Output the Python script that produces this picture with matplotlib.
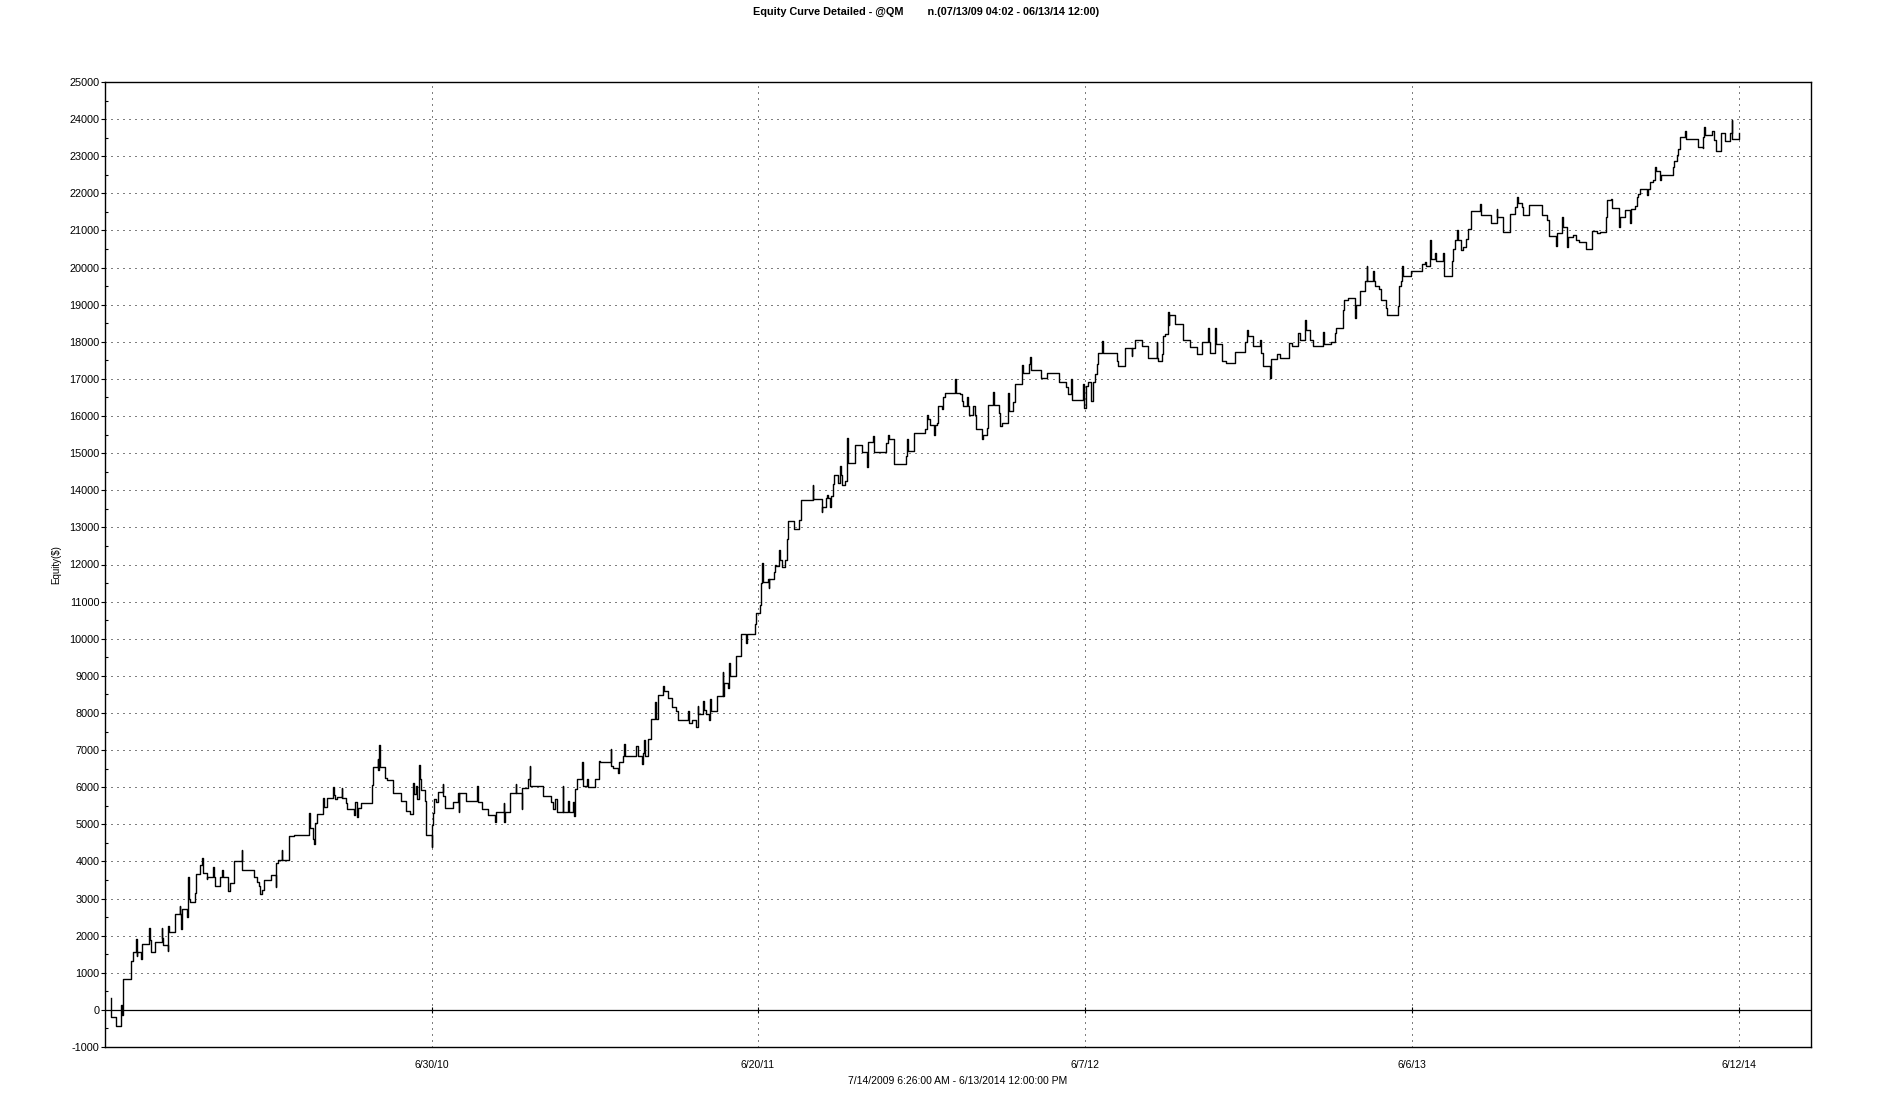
import matplotlib
matplotlib.use('Agg')
import matplotlib.pyplot as plt
from matplotlib.ticker import MultipleLocator

plt.rcParams['font.family'] = ['Liberation Sans', 'DejaVu Sans']
plt.rcParams['axes.unicode_minus'] = False  # plain hyphen for -1000

# equity curve: bar number -> equity ($), drawn as steps
BARS = [
    5.7, 6.0, 10.7, 15.7, 16.3, 17.0, 17.7, 18.3, 25.7, 28.3, 31.0, 31.7, 32.3, 36.3, 37.0,
    44.3, 45.0, 45.7, 50.0, 57.0, 57.3, 58.3, 62.7, 63.3, 64.3, 70.3, 75.0, 75.3, 76.3, 77.0,
    82.3, 83.3, 84.0, 85.0, 90.3, 91.0, 95.0, 97.3, 97.7, 98.3, 101.7, 102.3, 108.3, 109.0, 110.0,
    115.0, 117.3, 118.0, 123.3, 125.0, 129.3, 136.7, 137.0, 149.3, 151.7, 154.3, 155.0, 157.0, 159.0, 165.7,
    170.7, 171.0, 173.3, 176.7, 177.0, 184.3, 189.3, 204.3, 205.0, 208.3, 209.3, 210.3, 211.7, 217.7, 219.0,
    221.7, 228.3, 229.3, 230.3, 232.3, 236.7, 237.3, 241.0, 241.7, 249.0, 250.3, 251.7, 253.3, 256.0, 266.7,
    268.3, 272.7, 273.3, 274.3, 275.0, 280.0, 282.3, 288.3, 296.0, 301.0, 305.0, 308.3, 309.0, 311.0, 311.7,
    314.3, 315.0, 315.7, 320.0, 321.3, 326.7, 327.3, 328.3, 329.3, 331.0, 333.3, 337.7, 338.3, 340.0, 348.3,
    353.3, 353.7, 354.0, 361.0, 372.0, 372.7, 377.3, 383.3, 390.0, 391.0, 399.0, 399.3, 400.0, 405.0, 410.7,
    411.0, 416.7, 417.3, 422.7, 425.0, 425.3, 437.7, 445.7, 448.3, 450.0, 451.7, 457.7, 458.3, 463.3, 464.0,
    468.3, 469.0, 469.7, 471.7, 477.3, 477.7, 481.7, 483.3, 490.3, 494.3, 494.7, 505.7, 506.3, 508.3, 513.3,
    514.0, 518.3, 519.3, 520.0, 531.0, 532.7, 537.3, 538.3, 539.3, 540.0, 543.3, 545.7, 550.3, 551.0, 553.0,
    557.7, 559.3, 563.3, 566.7, 571.0, 573.3, 583.3, 584.0, 586.7, 591.0, 592.7, 593.3, 598.3, 599.0, 601.0,
    603.7, 605.0, 605.7, 611.7, 617.7, 618.3, 619.0, 622.7, 624.3, 625.0, 631.0, 636.3, 641.0, 642.3, 650.0,
    650.7, 655.0, 656.0, 656.7, 657.3, 657.7, 663.3, 663.7, 664.0, 669.3, 670.0, 671.0, 674.3, 674.7, 676.7,
    680.0, 682.3, 683.3, 689.3, 694.0, 695.7, 707.7, 708.3, 716.7, 717.0, 717.3, 720.7, 722.3, 723.3, 725.0,
    726.0, 727.7, 729.0, 733.3, 735.0, 735.7, 736.7, 740.0, 741.7, 742.3, 743.3, 750.0, 756.7, 762.3, 763.3,
    768.3, 769.0, 781.0, 782.7, 783.7, 789.0, 789.3, 801.0, 801.7, 802.7, 808.7, 820.0, 821.7, 823.3, 825.0,
    829.0, 830.0, 831.7, 833.3, 836.7, 838.3, 840.0, 850.0, 851.0, 855.0, 856.7, 858.3, 862.3, 863.0, 864.0,
    868.3, 870.0, 871.0, 876.7, 877.7, 882.3, 883.3, 888.3, 889.0, 894.3, 895.0, 896.7, 902.7, 904.3, 908.3,
    910.0, 917.0, 918.3, 923.7, 925.0, 925.7, 936.0, 942.3, 953.7, 961.0, 963.3, 965.7, 966.7, 978.3, 979.0,
    981.0, 983.3, 985.7, 987.7, 990.0, 991.7, 993.3, 996.7, 997.7, 1012.3, 1013.3, 1019.7, 1026.7, 1027.3, 1030.0,
    1036.7, 1043.3, 1051.7, 1052.3, 1053.3, 1056.7, 1057.7, 1060.0, 1063.3, 1064.0, 1064.3, 1070.0, 1078.3, 1085.0, 1091.7,
    1097.3, 1103.3, 1104.3, 1105.0, 1110.0, 1110.7, 1116.7, 1120.7, 1130.0, 1140.0, 1141.7, 1143.3, 1147.7, 1155.0, 1155.7,
    1157.7, 1165.0, 1165.7, 1171.7, 1175.0, 1184.3, 1186.7, 1193.3, 1195.0, 1200.0, 1201.0, 1205.0, 1208.3, 1218.3, 1219.0,
    1225.7, 1230.0, 1231.0, 1238.3, 1239.0, 1243.3, 1250.0, 1250.7, 1255.0, 1260.0, 1261.7, 1262.3, 1268.3, 1269.0, 1270.0,
    1274.3, 1276.0, 1281.0, 1281.7, 1292.7, 1294.0, 1295.7, 1296.7, 1297.7, 1306.0, 1316.7, 1320.0, 1321.0, 1325.0, 1325.7,
    1330.0, 1330.7, 1337.7, 1339.0, 1346.7, 1347.7, 1350.0, 1352.3, 1353.0, 1355.7, 1358.3, 1361.0, 1363.3, 1365.7, 1375.0,
    1376.0, 1385.7, 1391.7, 1392.3, 1398.3, 1405.0, 1410.0, 1411.7, 1412.7, 1416.7, 1417.7, 1424.3, 1436.7, 1442.3, 1443.7,
    1451.0, 1452.3, 1456.7, 1457.7, 1461.7, 1463.3, 1467.7, 1471.0, 1474.3, 1480.7, 1487.0, 1491.7, 1495.0, 1500.7, 1501.7,
    1505.7, 1506.7, 1514.3, 1515.0, 1520.0, 1525.0, 1526.0, 1530.0, 1531.7, 1533.3, 1535.0, 1541.7, 1543.3, 1545.0, 1548.3,
    1550.0, 1551.0, 1555.0, 1555.7, 1567.7, 1569.0, 1571.7, 1573.3, 1575.0, 1580.0, 1581.0, 1592.7, 1597.7, 1598.3, 1599.3,
    1600.0, 1606.7, 1609.0, 1611.0, 1616.0, 1620.0, 1625.0, 1626.7, 1627.3, 1634.0,
]
EQUITY = [
    320, -180, -430, -250, 120, -130, 350, 840, 1320, 1570, 1900, 1450, 1570, 1360, 1770,
    2200, 1880, 1570, 1830, 2200, 1950, 1750, 1590, 2250, 2090, 2570, 2800, 2570, 2170, 2730,
    2510, 3580, 3000, 2920, 3160, 3660, 3900, 4100, 3900, 3700, 3520, 3570, 3840, 3570, 3340,
    3570, 3760, 3570, 3190, 3430, 4000, 4320, 3760, 3570, 3450, 3350, 3130, 3230, 3500, 3630,
    3320, 3970, 4040, 4320, 4040, 4680, 4700, 5300, 4900, 4600, 4470, 5040, 5270, 5720, 5460,
    5720, 6000, 5800, 5680, 5740, 5970, 5720, 5580, 5410, 5250, 5590, 5190, 5450, 5570, 6060,
    6540, 6770, 6460, 7140, 6540, 6250, 6190, 5840, 5620, 5360, 5280, 6110, 5820, 6030, 5680,
    6590, 6220, 5920, 5630, 4700, 4400, 4970, 5300, 5680, 5590, 5860, 6080, 5770, 5430, 5590,
    5840, 5320, 5840, 5630, 6030, 5590, 5410, 5250, 5070, 5340, 5570, 5070, 5340, 5850, 6090,
    5850, 5410, 5970, 6220, 6560, 6030, 5770, 5610, 5410, 5680, 5340, 6030, 5340, 5640, 5340,
    5590, 5230, 5950, 6210, 6680, 6030, 6210, 6000, 6210, 6710, 6680, 7040, 6560, 6530, 6380,
    6670, 6850, 7160, 6850, 7100, 6850, 6620, 6920, 7280, 6830, 7300, 7840, 8290, 7840, 8490,
    8720, 8590, 8410, 8160, 8040, 7820, 8040, 7730, 7820, 7620, 8200, 7980, 8320, 8090, 7980,
    7820, 8380, 8040, 8450, 9100, 8450, 8810, 8680, 9350, 9000, 9530, 10120, 9890, 10140, 10400,
    10690, 10920, 11500, 11880, 12030, 11520, 11610, 11360, 11610, 11800, 12000, 11950, 12400, 12130, 11930,
    12130, 12690, 13160, 12960, 13190, 13740, 14150, 13770, 13550, 13410, 13550, 13780, 13870, 13780, 13550,
    13840, 14180, 14400, 14200, 14660, 14400, 14130, 14260, 14740, 15410, 14740, 15230, 15030, 14630, 15300,
    15460, 15030, 15280, 15500, 15370, 15100, 14710, 14920, 15370, 15050, 15550, 15640, 16020, 15910, 15770,
    15480, 15770, 15800, 16270, 16180, 16500, 16630, 16990, 16630, 16590, 16400, 16270, 16500, 16270, 16020,
    16270, 16020, 15640, 15370, 15500, 15680, 16290, 16650, 16290, 16090, 15730, 15800, 16610, 16140, 16380,
    16860, 17380, 17170, 17410, 17580, 17230, 17020, 17170, 16920, 16770, 16590, 17000, 16430, 16860, 16220,
    16800, 16920, 16400, 16930, 17140, 17390, 17700, 18020, 17700, 17480, 17350, 17840, 17620, 17840, 18060,
    17880, 17570, 18000, 17570, 17480, 17660, 18150, 18200, 18810, 18450, 18710, 18470, 18060, 17860, 17660,
    18000, 18380, 18000, 17700, 18380, 17930, 17480, 17430, 17730, 18000, 18330, 18150, 17880, 18060, 17700,
    17340, 17030, 17540, 17680, 17570, 17970, 17880, 18240, 18060, 18600, 18330, 18060, 17880, 18270, 17930,
    18000, 18240, 18380, 18870, 19120, 19190, 18650, 19000, 19370, 19640, 20030, 19640, 19910, 19640, 19500,
    19410, 19120, 18920, 18720, 18960, 19500, 19640, 20030, 19770, 19910, 20090, 20150, 20040, 20740, 20230,
    20380, 20180, 20400, 19770, 20180, 20490, 20740, 21010, 20740, 20470, 20560, 20780, 21030, 21520, 21720,
    21410, 21190, 21590, 21370, 20950, 21440, 21640, 21900, 21750, 21640, 21410, 21680, 21430, 21280, 20850,
    20570, 20920, 21370, 21100, 20560, 20830, 20880, 20740, 20690, 20510, 20990, 20920, 20950, 21350, 21820,
    21850, 21610, 21100, 21370, 21550, 21190, 21590, 21660, 21910, 21970, 22130, 21950, 22130, 22310, 22360,
    22720, 22590, 22360, 22500, 22720, 22860, 23040, 23190, 23510, 23670, 23460, 23260, 23220, 23530, 23780,
    23580, 23690, 23440, 23130, 23620, 23400, 23620, 23980, 23460, 23620,
]

TICK_POS = [327, 653, 980, 1307, 1634]
TICK_LABELS = ['6/30/10', '6/20/11', '6/7/12', '6/6/13', '6/12/14']
X_END = 1706

TITLE = 'Equity Curve Detailed - @QM        n.(07/13/09 04:02 - 06/13/14 12:00)'
XLABEL = '7/14/2009 6:26:00 AM - 6/13/2014 12:00:00 PM'
NARROW = ['Liberation Sans Narrow', 'Liberation Sans', 'DejaVu Sans']

fig = plt.figure(figsize=(19.02, 11.13), dpi=100)
ax = fig.add_axes([105 / 1902, 1 - 1047 / 1113, 1706 / 1902, 965 / 1113])

ax.plot(BARS, EQUITY, drawstyle='steps-post', color='black', lw=1.0)
ax.axhline(0, color='black', lw=0.9)

ax.set_xlim(0, X_END)
ax.set_ylim(-1000, 25000)
ax.yaxis.set_major_locator(MultipleLocator(1000))
ax.yaxis.set_minor_locator(MultipleLocator(500))
ax.set_xticks(TICK_POS, TICK_LABELS, family=NARROW)

ax.set_axisbelow(True)
ax.grid(True, which='major', color='black', lw=0.72, linestyle=(0, (1, 5)))
ax.tick_params(axis='x', length=0, pad=9, labelsize=7.5)
ax.tick_params(axis='y', which='major', direction='out', length=3, width=0.8, pad=1, labelsize=7.8)
ax.tick_params(axis='y', which='minor', direction='in', length=2, width=0.8)
for s in ax.spines.values():
    s.set_linewidth(1.0)

# tick marks of the time axis sit on the zero line
sec = ax.secondary_xaxis(1000 / 26000)
sec.set_xticks(TICK_POS)
sec.tick_params(direction='inout', length=5, width=0.8, labelbottom=False, labeltop=False)
for s in sec.spines.values():
    s.set_visible(False)

ax.set_ylabel('Equity($)', fontsize=7, labelpad=6)
ax.set_xlabel(XLABEL, fontsize=7.5, family=NARROW, labelpad=5)
fig.text(926 / 1902, 1 - 12 / 1113, TITLE, ha='center', va='center', fontsize=7.8, fontweight='bold')

fig.savefig('out.png', dpi=100)
